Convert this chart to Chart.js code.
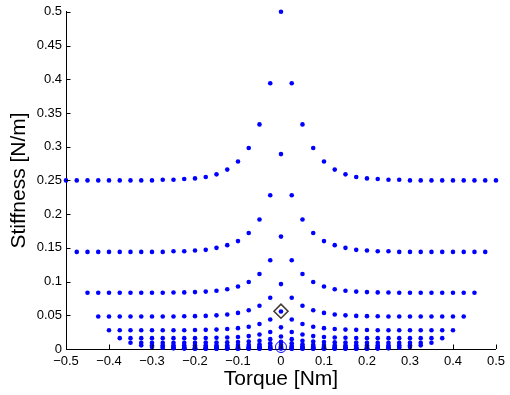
<!DOCTYPE html>
<html><head><meta charset="utf-8">
<script src="https://cdn.jsdelivr.net/npm/chart.js@4"></script>
<style>html,body{margin:0;padding:0;background:#fff}</style>
</head><body>
<canvas id="c" width="510" height="395"></canvas>
<script>
const torque = [-0.5,-0.475,-0.45,-0.425,-0.4,-0.375,-0.35,-0.325,-0.3,-0.275,-0.25,-0.225,-0.2,-0.175,-0.15,-0.125,-0.1,-0.075,-0.05,-0.025,0,0.025,0.05,0.075,0.1,0.125,0.15,0.175,0.2,0.225,0.25,0.275,0.3,0.325,0.35,0.375,0.4,0.425,0.45,0.475,0.5];
const curve1 = [0.25,0.25,0.25,0.25,0.25,0.25,0.25,0.25,0.25,0.251,0.251,0.252,0.253,0.255,0.259,0.266,0.278,0.298,0.333,0.394,0.5,0.394,0.333,0.298,0.278,0.266,0.259,0.255,0.253,0.252,0.251,0.251,0.25,0.25,0.25,0.25,0.25,0.25,0.25,0.25,0.25];
const curve2 = [0.144,0.144,0.144,0.144,0.144,0.144,0.144,0.144,0.144,0.145,0.145,0.146,0.147,0.150,0.154,0.160,0.172,0.192,0.228,0.289,0.228,0.192,0.172,0.160,0.154,0.150,0.147,0.146,0.145,0.145,0.144,0.144,0.144,0.144,0.144,0.144,0.144,0.144,0.144];
const curve3 = [0.0834,0.0834,0.0834,0.0834,0.0834,0.0834,0.0834,0.0834,0.0837,0.0839,0.0844,0.0851,0.0864,0.0887,0.0926,0.0994,0.1111,0.1315,0.1667,0.1315,0.1111,0.0994,0.0926,0.0887,0.0864,0.0851,0.0844,0.0839,0.0837,0.0834,0.0834,0.0834,0.0834,0.0834,0.0834,0.0834,0.0834];
const curve4 = [0.0482,0.0482,0.0482,0.0482,0.0482,0.0482,0.0482,0.0482,0.0485,0.0487,0.0491,0.0499,0.0512,0.0535,0.0574,0.0642,0.0759,0.0962,0.0759,0.0642,0.0574,0.0535,0.0512,0.0499,0.0491,0.0487,0.0485,0.0482,0.0482,0.0482,0.0482,0.0482,0.0482,0.0482,0.0482];
const curve5 = [0.0279,0.0279,0.0279,0.0279,0.0279,0.0279,0.0279,0.0279,0.0281,0.0284,0.0288,0.0296,0.0309,0.0331,0.0370,0.0438,0.0556,0.0438,0.0370,0.0331,0.0309,0.0296,0.0288,0.0284,0.0281,0.0279,0.0279,0.0279,0.0279,0.0279,0.0279,0.0279,0.0279];
const curve6 = [0.0161,0.0161,0.0161,0.0161,0.0161,0.0161,0.0161,0.0161,0.0164,0.0166,0.0171,0.0178,0.0191,0.0214,0.0253,0.0321,0.0253,0.0214,0.0191,0.0178,0.0171,0.0166,0.0164,0.0161,0.0161,0.0161,0.0161,0.0161,0.0161,0.0161,0.0161];
const curve7 = [0.0093,0.0093,0.0093,0.0093,0.0093,0.0093,0.0093,0.0095,0.0096,0.0099,0.0103,0.0110,0.0123,0.0146,0.0185,0.0146,0.0123,0.0110,0.0103,0.0099,0.0096,0.0095,0.0093,0.0093,0.0093,0.0093,0.0093,0.0093,0.0093];
const curve8 = [0.0054,0.0054,0.0054,0.0054,0.0054,0.0054,0.0054,0.0055,0.0057,0.0059,0.0064,0.0071,0.0084,0.0107,0.0084,0.0071,0.0064,0.0059,0.0057,0.0055,0.0054,0.0054,0.0054,0.0054,0.0054,0.0054,0.0054];
const curve9 = [0.0031,0.0031,0.0031,0.0031,0.0031,0.0031,0.0031,0.0033,0.0034,0.0037,0.0041,0.0049,0.0062,0.0049,0.0041,0.0037,0.0034,0.0033,0.0031,0.0031,0.0031,0.0031,0.0031,0.0031,0.0031];
const curve10 = [0.0018,0.0018,0.0018,0.0018,0.0018,0.0018,0.0018,0.0020,0.0021,0.0024,0.0028,0.0036,0.0028,0.0024,0.0021,0.0020,0.0018,0.0018,0.0018,0.0018,0.0018,0.0018,0.0018];
const curve11 = [0.0010,0.0010,0.0010,0.0010,0.0010,0.0010,0.0011,0.0012,0.0014,0.0016,0.0021,0.0016,0.0014,0.0012,0.0011,0.0010,0.0010,0.0010,0.0010,0.0010,0.0010];
const curve12 = [0.0006,0.0006,0.0006,0.0006,0.0006,0.0006,0.0007,0.0008,0.0009,0.0012,0.0009,0.0008,0.0007,0.0006,0.0006,0.0006,0.0006,0.0006,0.0006];
const curve13 = [0.0003,0.0003,0.0003,0.0003,0.0003,0.0003,0.0005,0.0005,0.0007,0.0005,0.0005,0.0003,0.0003,0.0003,0.0003,0.0003,0.0003];
const markerDiamond = [0, 0.056];
const markerCircle = [0, 0.003];
const xTickValues = [-0.5,-0.4,-0.3,-0.2,-0.1,0,0.1,0.2,0.3,0.4,0.5];
const xTickLabels = ['\u22120.5','\u22120.4','\u22120.3','\u22120.2','\u22120.1','0','0.1','0.2','0.3','0.4','0.5'];
const yTickValues = [0,0.05,0.1,0.15,0.2,0.25,0.3,0.35,0.4,0.45,0.5];
const yTickLabels = ['0','0.05','0.1','0.15','0.2','0.25','0.3','0.35','0.4','0.45','0.5'];

const curves = [curve1,curve2,curve3,curve4,curve5,curve6,curve7,curve8,curve9,curve10,curve11,curve12,curve13];
const FONT = '"Liberation Sans", Arial, Helvetica, sans-serif';

const datasets = [
  {data:[{x:markerDiamond[0],y:markerDiamond[1]}], pointStyle:'rectRot', pointRadius:7, backgroundColor:'rgba(0,0,0,0)', borderColor:'#403a33', pointBorderWidth:1.6, showLine:false, clip:false},
  {data:[{x:markerCircle[0],y:markerCircle[1]}], pointStyle:'circle', pointRadius:5.5, backgroundColor:'rgba(0,0,0,0)', borderColor:'#0000ff', pointBorderWidth:1, showLine:false, clip:false}
];
curves.forEach(c => {
  const off = (torque.length - c.length) / 2;
  datasets.push({
    data: c.map((y, j) => ({x: torque[off + j], y})),
    pointStyle:'circle', pointRadius:2.3, backgroundColor:'#0000ff', borderColor:'#0000ff', pointBorderWidth:0, showLine:false, clip:false
  });
});

const inwardTicks = {
  id:'inwardTicks',
  afterDraw(chart){
    const ctx = chart.ctx, xs = chart.scales.x, ys = chart.scales.y, a = chart.chartArea;
    ctx.save();
    ctx.strokeStyle = '#000'; ctx.lineWidth = 1;
    ctx.beginPath();
    xTickValues.forEach(v => { const p = Math.round(xs.getPixelForValue(v)) + 0.5; ctx.moveTo(p, a.bottom); ctx.lineTo(p, a.bottom - 4.5); });
    yTickValues.forEach(v => { const p = Math.round(ys.getPixelForValue(v)) + 0.5; ctx.moveTo(a.left, p); ctx.lineTo(a.left + 4.5, p); });
    ctx.stroke();
    ctx.restore();
  }
};

new Chart(document.getElementById('c'), {
  type:'scatter',
  data:{datasets},
  plugins:[inwardTicks],
  options:{
    responsive:false, animation:false, devicePixelRatio:1,
    layout:{padding:{top:8, right:9, left:0, bottom:0}},
    plugins:{legend:{display:false}, tooltip:{enabled:false}},
    scales:{
      x:{
        type:'linear', min:-0.5, max:0.5,
        afterBuildTicks: s => { s.ticks = xTickValues.map(v => ({value:v})); },
        afterFit: s => { s.height = 46; },
        grid:{display:false, drawTicks:false},
        border:{display:true, color:'#000', width:1},
        ticks:{callback:(v,i) => xTickLabels[i], autoSkip:false, maxRotation:0, padding:5, color:'#000', font:{family:FONT, size:13}},
        title:{display:true, text:'Torque [Nm]', color:'#000', font:{family:FONT, size:21}, padding:{top:0, bottom:3.4}}
      },
      y:{
        type:'linear', min:0, max:0.5,
        afterBuildTicks: s => { s.ticks = yTickValues.map(v => ({value:v})); },
        afterFit: s => { s.width = 66; },
        grid:{display:false, drawTicks:false},
        border:{display:true, color:'#000', width:1},
        ticks:{callback:(v,i) => yTickLabels[i], autoSkip:false, padding:4, color:'#000', font:{family:FONT, size:13}},
        title:{display:true, text:'Stiffness [N/m]', color:'#000', font:{family:FONT, size:21}, padding:{top:6.4, bottom:0}}
      }
    }
  }
});
</script>
</body></html>
